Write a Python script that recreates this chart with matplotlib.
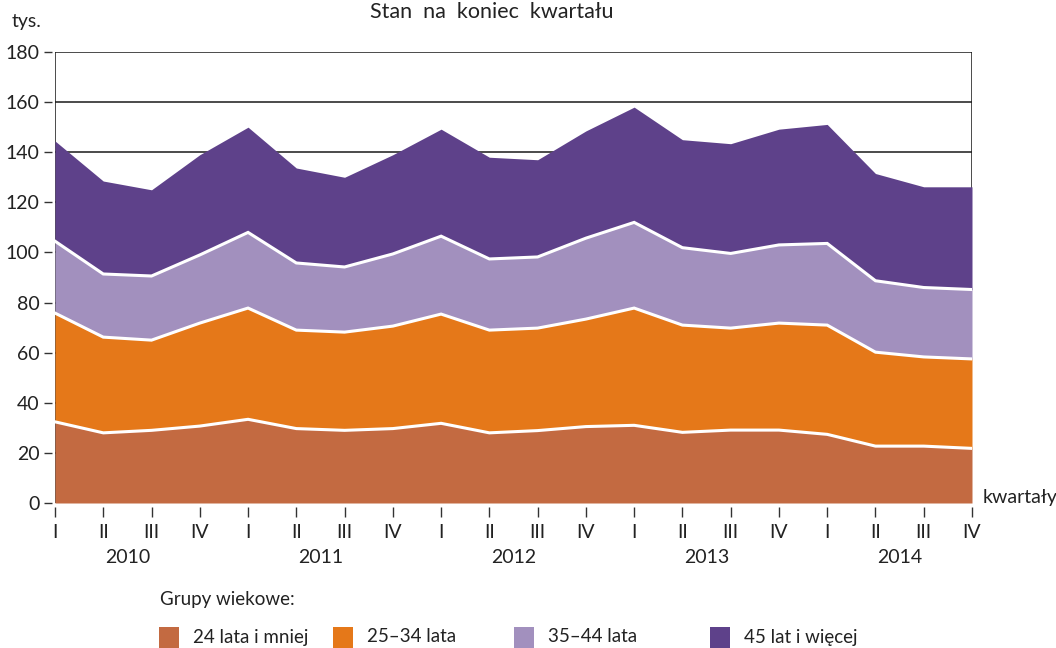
import matplotlib.pyplot as plt
from matplotlib.patches import Rectangle
import numpy as np

plt.rcParams['font.family'] = ['Lato', 'DejaVu Sans']

quarters = ['I', 'II', 'III', 'IV'] * 5
years = ['2010', '2011', '2012', '2013', '2014']

# cumulative tops (tys.)
top_24 = [32.4, 28.0, 29.0, 30.7, 33.4, 29.7, 29.0, 29.7, 31.8, 28.0,
          28.9, 30.5, 31.0, 28.2, 29.1, 29.1, 27.4, 22.7, 22.7, 21.8]
top_25_34 = [75.8, 66.2, 65.0, 71.8, 77.8, 69.0, 68.2, 70.6, 75.4, 69.0,
             69.8, 73.4, 77.8, 71.0, 69.8, 71.8, 71.0, 60.2, 58.3, 57.5]
top_35_44 = [104.5, 91.4, 90.6, 99.0, 108.0, 95.8, 94.2, 99.4, 106.5, 97.4,
             98.2, 105.7, 112.0, 101.9, 99.6, 103.0, 103.6, 88.7, 86.0, 85.2]
top_45 = [144.5, 128.5, 125.0, 139.0, 150.0, 133.7, 130.0, 139.0, 149.2, 138.0,
          137.0, 148.5, 158.0, 145.0, 143.4, 149.2, 151.1, 131.5, 126.2, 126.2]

labels = ['24 lata i mniej', '25\u201334 lata', '35\u201344 lata', '45 lat i więcej']
colors = ['#C36A41', '#E57819', '#A290BE', '#5E418A']

x = np.arange(len(quarters))
tops = [np.array(top_24), np.array(top_25_34), np.array(top_35_44), np.array(top_45)]

fig = plt.figure(figsize=(10.56, 6.48), dpi=100)
ax = fig.add_axes([55 / 1056, 1 - 503 / 648, (972 - 55) / 1056, (503 - 52) / 648])

base = np.zeros(len(x))
for top, c in zip(tops, colors):
    ax.fill_between(x, base, top, color=c, lw=0, zorder=2)
    base = top
for top in tops[:3]:
    ax.plot(x, top, color='white', lw=2.2, zorder=3, solid_joinstyle='miter')

ax.set_xlim(0, len(x) - 1)
ax.set_ylim(0, 180)
ax.set_yticks(np.arange(0, 181, 20))
for yv in np.arange(20, 181, 20):
    ax.axhline(yv, color='#1a1a1a', lw=1.1, zorder=0.5)
ax.axvline(0, color='#1a1a1a', lw=1.1, zorder=0.5)
ax.axvline(len(x) - 1, color='#1a1a1a', lw=1.1, zorder=0.5)

for side in ['left', 'right', 'bottom', 'top']:
    ax.spines[side].set_visible(False)
ax.spines['bottom'].set_position(('outward', 3))
ax.spines['left'].set_position(('outward', 2))

ax.set_xticks(x)
ax.set_xticklabels(quarters)
ax.tick_params(axis='x', length=7, width=1, color='#333333', pad=5, labelsize=14, labelcolor='#222222')
ax.tick_params(axis='y', length=6, width=1, color='#333333', pad=3, labelsize=14, labelcolor='#222222')

for i, yr in enumerate(years):
    ax.text(4 * i + 1.5, -0.12, yr, transform=ax.get_xaxis_transform(),
            ha='center', va='center', fontsize=14, color='#222222')

fig.text(492 / 1056, 1 - 12 / 648, 'Stan  na  koniec  kwartału', ha='center', va='center',
         fontsize=15.5, color='#222222')
fig.text(12 / 1056, 1 - 22 / 648, 'tys.', ha='left', va='center', fontsize=14, color='#222222')
fig.text(983 / 1056, 1 - 498 / 648, 'kwartały', ha='left', va='center', fontsize=14, color='#222222')

# legend
fig.text(160 / 1056, 1 - 600 / 648, 'Grupy wiekowe:', ha='left', va='center', fontsize=13.5,
         color='#222222')
leg_x = [159, 333, 514, 710]
for lx, lab, c in zip(leg_x, labels, colors):
    fig.add_artist(Rectangle((lx / 1056, 0), 20 / 1056, 21 / 648,
                             transform=fig.transFigure, color=c, lw=0))
    fig.text((lx + 34) / 1056, 1 - 637 / 648, lab, ha='left', va='center', fontsize=13.5,
             color='#222222')

fig.savefig('out.png', dpi=100)
